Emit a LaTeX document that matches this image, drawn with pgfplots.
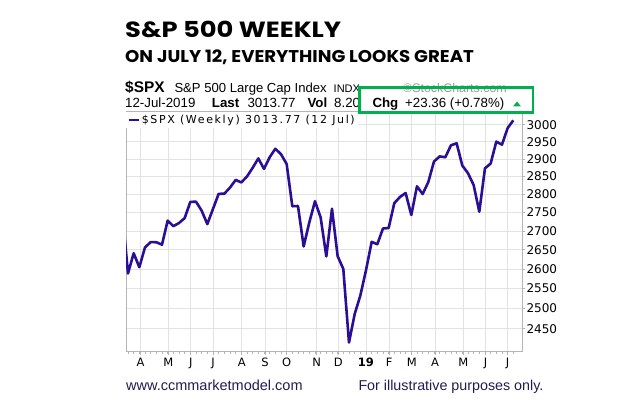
\documentclass[border=0pt]{standalone}
\usepackage{pgfplots}
\pgfplotsset{compat=1.18}
\usepackage{fontspec}
\setmainfont{Liberation Sans}
\newfontfamily\titlefont{Poppins}
\newfontfamily\verd{DejaVu Sans}
\newfontfamily\verdls[LetterSpace=15]{DejaVu Sans}

\definecolor{spx}{HTML}{2A0F96}
\definecolor{gridc}{HTML}{E2E2E2}
\definecolor{framec}{HTML}{B5B5B5}
\definecolor{boxg}{HTML}{00B04F}
\definecolor{navy}{HTML}{1E1E50}
\definecolor{wm}{HTML}{9A9A9A}

\begin{document}
\begin{tikzpicture}[x=1pt,y=1pt]
\path[use as bounding box] (0,0) rectangle (639,407);

% weekly chart, x = weeks after 23 Mar 2018, log price scale
\begin{axis}[
  at={(126pt,55.3pt)}, anchor=south west,
  scale only axis, width=396.3pt, height=239.7pt,
  xmin=-0.353, xmax=69.59,
  ymode=log, ymin=2395, ymax=3039,
  axis line style={framec, line width=0.9pt},
  grid=major, major grid style={gridc, line width=0.8pt},
  xtick={2.2,7.1,11.1,15.0,20.1,24.2,28.0,33.3,37.1,42.0,46.1,50.1,54.2,59.2,63.1,67.0},
  xticklabels={A,M,J,J,A,S,O,N,D,\textbf{19},F,M,A,M,J,J},
  minor xtick={0,...,68},
  ytick={2450,2500,2550,2600,2650,2700,2750,2800,2850,2900,2950,3000},
  yticklabels={2450,2500,2550,2600,2650,2700,2750,2800,2850,2900,2950,3000},
  xtick pos=left, ytick pos=right, yticklabel pos=right,
  tick align=outside,
  major tick length=3pt, minor tick length=2pt,
  tick style={framec, line width=0.8pt},
  xticklabel style={font=\verd\fontsize{11.5}{11.5}\selectfont, anchor=base, yshift=-12pt},
  yticklabel style={font=\verd\fontsize{12}{12}\selectfont, inner sep=1pt},
  legend style={at={(axis description cs:0,1)}, anchor=north west, draw=none,
    fill=white, inner xsep=1pt, inner ysep=1pt,
    font=\verdls\fontsize{11}{11}\selectfont},
  legend image code/.code={\draw[#1] (0pt,0pt) -- (10pt,0pt);},
]
\addplot[spx, line width=2.6pt, line join=round] coordinates {
(-1,2752.01) (0,2588.26) (1,2640.87) (2,2604.47) (3,2656.30) (4,2670.14)
(5,2669.91) (6,2663.42) (7,2727.72) (8,2712.97) (9,2721.33) (10,2734.62)
(11,2779.03) (12,2779.66) (13,2754.88) (14,2718.37) (15,2759.82) (16,2801.31)
(17,2801.83) (18,2818.82) (19,2840.35) (20,2833.28) (21,2850.13) (22,2874.69)
(23,2901.52) (24,2871.68) (25,2904.98) (26,2929.67) (27,2913.98) (28,2885.57)
(29,2767.13) (30,2767.78) (31,2658.69) (32,2723.06) (33,2781.01) (34,2736.27)
(35,2632.56) (36,2760.17) (37,2633.08) (38,2599.95) (39,2416.62) (40,2485.74)
(41,2531.94) (42,2596.26) (43,2670.71) (44,2664.76) (45,2706.53) (46,2707.88)
(47,2775.60) (48,2792.67) (49,2803.69) (50,2743.07) (51,2822.48) (52,2800.71)
(53,2834.40) (54,2892.74) (55,2907.41) (56,2905.03) (57,2939.88) (58,2945.64)
(59,2881.40) (60,2859.53) (61,2826.06) (62,2752.06) (63,2873.34) (64,2886.98)
(65,2950.46) (66,2941.76) (67,2990.41) (68,3013.77)
};
\addlegendentry{\$SPX (Weekly) 3013.77 (12 Jul)}
\end{axis}

% headings
\node[anchor=base west, inner sep=0] at (125,369.5)
  {\scalebox{1.17}[1]{\titlefont\bfseries\fontsize{22}{22}\selectfont S\&P 500 WEEKLY}};
\node[anchor=base west, inner sep=0] at (125,344.3)
  {\scalebox{1.07}[1]{\titlefont\bfseries\fontsize{17}{17}\selectfont ON JULY 12, EVERYTHING LOOKS GREAT}};

\node[anchor=base west, inner sep=0] at (125,314.3) {\bfseries\fontsize{15.4}{15}\selectfont \$SPX};
\node[anchor=base west, inner sep=0] at (174.3,314.3) {\fontsize{13.1}{13}\selectfont S\&P 500 Large Cap Index};
\node[anchor=base west, inner sep=0] at (333.5,314.3) {\fontsize{11}{11}\selectfont INDX};
\node[anchor=base west, inner sep=0, text=wm] at (403,314.3) {\fontsize{12.4}{12}\selectfont ©StockCharts.com};

\node[anchor=base west, inner sep=0] at (125,299.3) {\fontsize{13.3}{13}\selectfont 12-Jul-2019};
\node[anchor=base west, inner sep=0] at (211.7,299.3) {\bfseries\fontsize{13.3}{13}\selectfont Last};
\node[anchor=base west, inner sep=0] at (247.3,299.3) {\fontsize{13.3}{13}\selectfont 3013.77};
\node[anchor=base west, inner sep=0] at (307.3,299.3) {\bfseries\fontsize{13.3}{13}\selectfont Vol};
\node[anchor=base west, inner sep=0] at (334,299.3) {\fontsize{13.3}{13}\selectfont 8.20};
\node[anchor=base west, inner sep=0] at (372.3,299.3) {\bfseries\fontsize{13.3}{13}\selectfont Chg};
\node[anchor=base west, inner sep=0] at (405,299.3) {\fontsize{13.3}{13}\selectfont +23.36 (+0.78\%)};
\fill[boxg] (513,300.5) -- (521,300.5) -- (517,305.5) -- cycle;

\draw[boxg, line width=2.6pt] (359.3,319.7) rectangle (533,294.5);

% footer
\node[anchor=base west, inner sep=0, text=navy] at (126,16.5) {\fontsize{14.5}{14}\selectfont www.ccmmarketmodel.com};
\node[anchor=base west, inner sep=0, text=navy] at (358.3,16.5) {\fontsize{14.3}{14}\selectfont For illustrative purposes only.};
\end{tikzpicture}
\end{document}
